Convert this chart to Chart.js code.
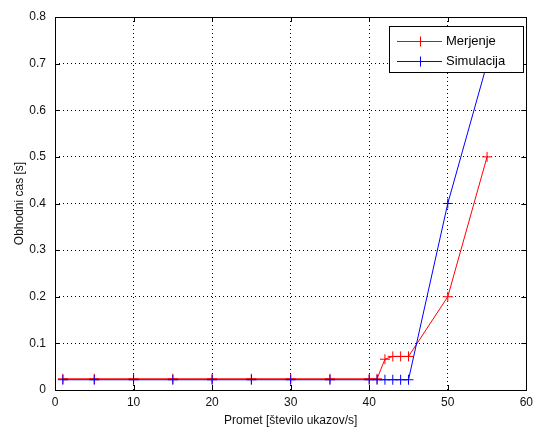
<!DOCTYPE html>
<html>
<head>
<meta charset="utf-8">
<script src="https://cdn.jsdelivr.net/npm/chart.js@4.4.0/dist/chart.umd.min.js"></script>
<style>
  html, body { margin: 0; padding: 0; background: #fff; }
  #wrap { width: 538px; height: 428px; }
</style>
</head>
<body>
<div id="wrap"><canvas id="c" width="538" height="428"></canvas></div>
<script>
// values
const promet = [1, 5, 10, 15, 20, 25, 30, 35, 40, 41, 42, 43, 44, 45, 50, 55];
const merjenje = [0.024, 0.024, 0.024, 0.024, 0.024, 0.024, 0.024, 0.024, 0.024, 0.024, 0.066, 0.072, 0.072, 0.072, 0.2, 0.5];
const simulacija = [0.022, 0.022, 0.022, 0.022, 0.022, 0.022, 0.022, 0.022, 0.022, 0.022, 0.022, 0.022, 0.022, 0.022, 0.4, 0.7];
const xTicks = [0, 10, 20, 30, 40, 50, 60];
const yTicks = [0, 0.1, 0.2, 0.3, 0.4, 0.5, 0.6, 0.7, 0.8];

const FONT = 'Liberation Sans, Arial, sans-serif';
const toPts = ys => promet.map((x, i) => ({x: x, y: ys[i]}));

// MATLAB style box, inward ticks and legend inside the axes
const matlabBox = {
  id: 'matlabBox',
  afterDraw(chart) {
    const c = chart.ctx, a = chart.chartArea;
    const xs = chart.scales.x, ys = chart.scales.y;
    c.save();
    c.strokeStyle = '#000';
    c.lineWidth = 1;
    c.strokeRect(Math.round(a.left) + 0.5, Math.round(a.top) + 0.5,
                 Math.round(a.right - a.left), Math.round(a.bottom - a.top));
    c.beginPath();
    xTicks.forEach(v => {
      const px = Math.round(xs.getPixelForValue(v)) + 0.5;
      c.moveTo(px, a.bottom); c.lineTo(px, a.bottom - 5);
      c.moveTo(px, a.top); c.lineTo(px, a.top + 5);
    });
    yTicks.forEach(v => {
      const py = Math.round(ys.getPixelForValue(v)) + 0.5;
      c.moveTo(a.left, py); c.lineTo(a.left + 5, py);
      c.moveTo(a.right, py); c.lineTo(a.right - 5, py);
    });
    c.stroke();

    // legend
    const lx = 389.5, ly = 26.5, lw = 134, lh = 46;
    c.fillStyle = '#fff';
    c.fillRect(lx, ly, lw, lh);
    c.strokeRect(lx, ly, lw, lh);
    c.font = '13px ' + FONT;
    c.textBaseline = 'middle';
    chart.data.datasets.forEach((ds, i) => {
      const y = Math.round(ly + 14 + i * 20.5) + 0.5;
      c.strokeStyle = ds.borderColor;
      c.beginPath();
      c.moveTo(397, y); c.lineTo(442, y);
      c.moveTo(420.5, y - 5); c.lineTo(420.5, y + 5);
      c.moveTo(415, y); c.lineTo(426, y);
      c.stroke();
      c.fillStyle = '#000';
      c.fillText(ds.label, 446, y);
    });
    c.restore();
  }
};

new Chart(document.getElementById('c'), {
  type: 'line',
  data: {
    datasets: [
      {label: 'Merjenje', data: toPts(merjenje), borderColor: '#ff0000', backgroundColor: '#ff0000',
       borderWidth: 1, pointStyle: 'cross', pointRadius: 5, pointBorderWidth: 1, tension: 0, order: 1},
      {label: 'Simulacija', data: toPts(simulacija), borderColor: '#0000ff', backgroundColor: '#0000ff',
       borderWidth: 1, pointStyle: 'cross', pointRadius: 5, pointBorderWidth: 1, tension: 0, order: 0}
    ]
  },
  options: {
    responsive: false,
    animation: false,
    layout: {padding: {top: 17, right: 11, left: 0, bottom: 0}},
    plugins: {legend: {display: false}, tooltip: {enabled: false}},
    scales: {
      x: {
        type: 'linear', min: 0, max: 60,
        afterBuildTicks: s => { s.ticks = xTicks.map(v => ({value: v})); },
        afterFit: s => { s.height = 38; },
        ticks: {color: '#111', font: {family: FONT, size: 12}, padding: 5,
                callback: v => String(v)},
        grid: {color: '#000', lineWidth: 1, drawTicks: false},
        border: {display: false, dash: [1, 3]},
        title: {display: true, text: 'Promet [število ukazov/s]', color: '#111',
                font: {family: FONT, size: 12}, padding: {top: 0, bottom: 0}}
      },
      y: {
        min: 0, max: 0.8,
        afterBuildTicks: s => { s.ticks = yTicks.map(v => ({value: v})); },
        afterFit: s => { s.width = 55; },
        ticks: {color: '#111', font: {family: FONT, size: 12}, padding: 9,
                callback: v => v === 0 ? '0' : v.toFixed(1)},
        grid: {color: '#000', lineWidth: 1, drawTicks: false},
        border: {display: false, dash: [1, 3]},
        title: {display: true, text: 'Obhodni cas [s]', color: '#111',
                font: {family: FONT, size: 12}, padding: {top: 12, bottom: 0}}
      }
    }
  },
  plugins: [matlabBox]
});
</script>
</body>
</html>
